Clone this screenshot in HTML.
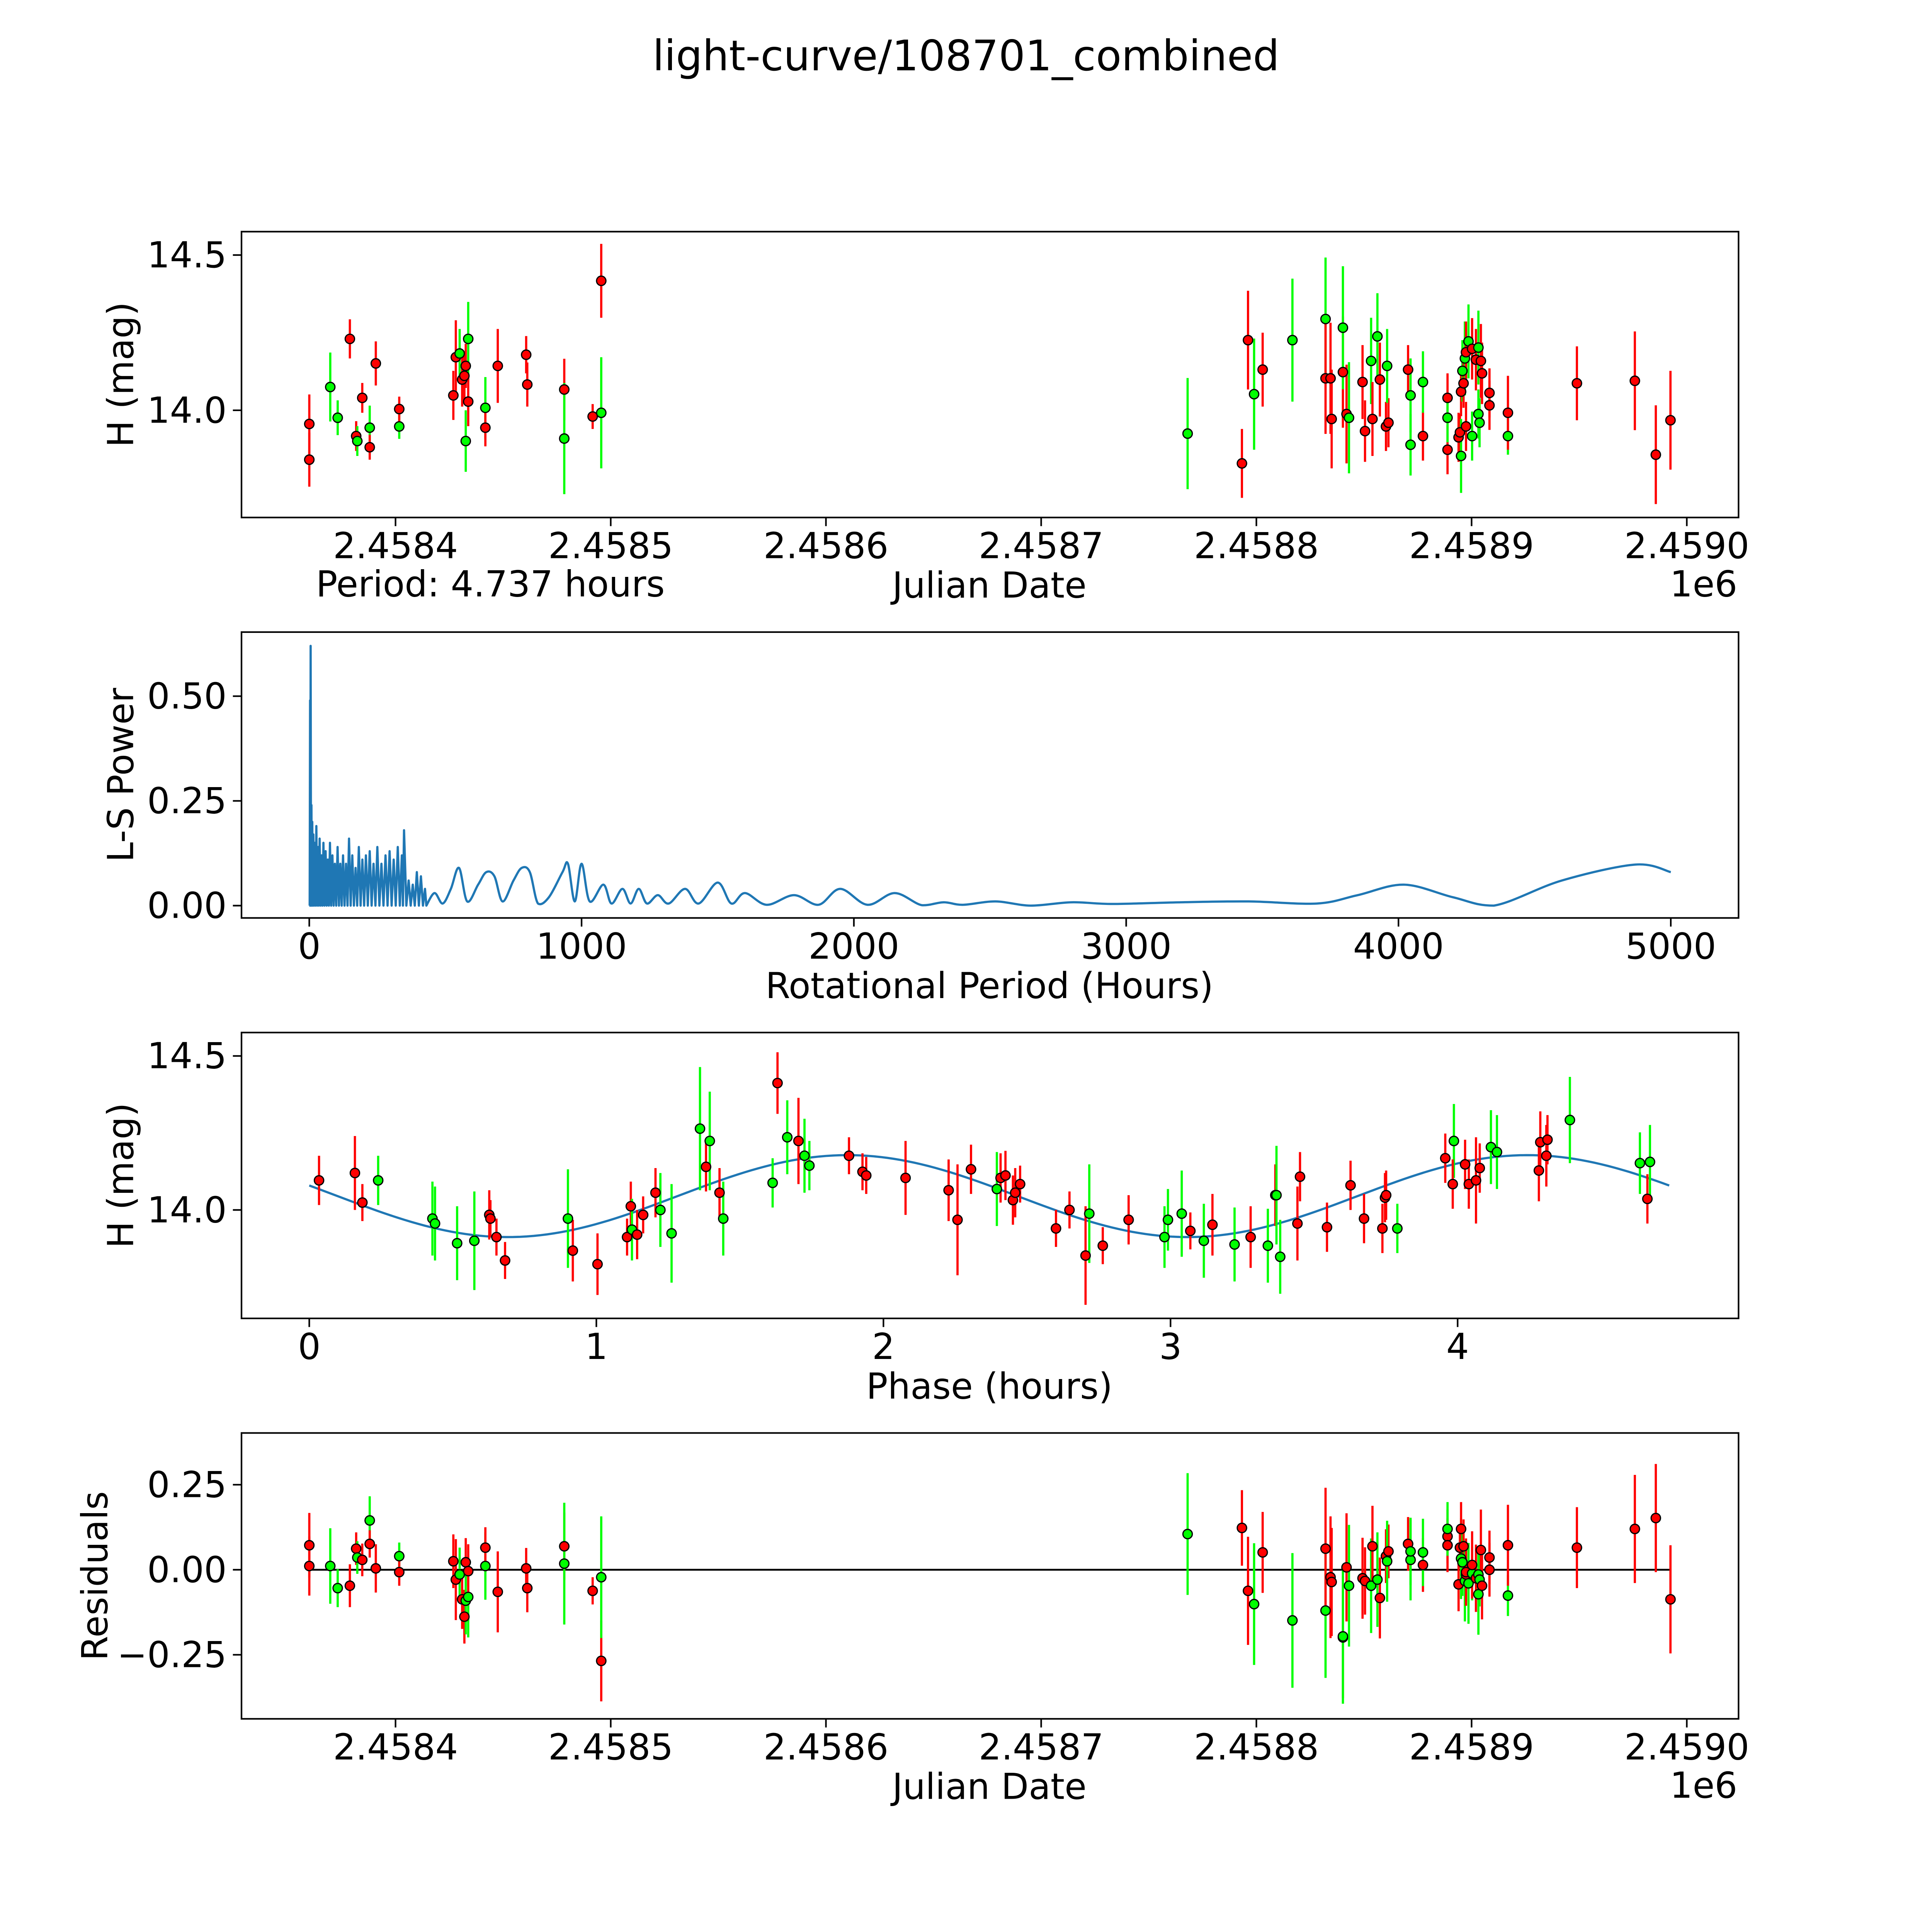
<!DOCTYPE html>
<html><head><meta charset="utf-8"><style>
html,body{margin:0;padding:0;background:#fff;overflow:hidden}
svg{display:block;width:100vw;height:100vh}
text{font-family:"DejaVu Sans","Liberation Sans",sans-serif;fill:#000}
</style></head><body>
<svg id="fig" xmlns="http://www.w3.org/2000/svg" viewBox="0 0 1568 1568" preserveAspectRatio="none">
<rect width="1568" height="1568" fill="#fff"/>
<text x="784" y="57" font-size="34" text-anchor="middle">light-curve/108701_combined</text>
<g id="g"></g>
</svg>
<script>
// ---- data ----
// light curve: day offset from 2458400, mag, err, filter
const lcDay=[-40.06,-40.06,-30.32,-26.87,-21.21,-18.28,-17.75,-15.45,-11.99,-11.99,-9.16,1.73,1.73,26.87,28.02,29.80,30.96,32.00,32.63,32.63,33.78,33.78,41.75,41.75,47.51,60.71,61.23,78.41,78.41,91.6,95.59,95.59,
368.05,393.29,396.12,398.94,402.92,416.75,432.14,432.14,434.45,434.98,440.21,440.21,441.89,443.04,449.33,450.48,453.31,453.94,456.24,457.39,460.22,461.37,460.75,470.49,471.64,471.64,477.40,477.40,488.82,488.82,488.82,493.95,494.58,495.11,495.11,495.74,496.26,496.89,497.41,497.41,500.24,498.56,500.24,502.02,503.17,503.17,503.70,504.32,504.85,508.31,508.31,516.89,516.89,548.94,575.86,585.60,592.41];
const lcMag=[13.956,13.841,14.075,13.976,14.230,13.917,13.901,14.040,13.944,13.881,14.151,13.948,14.004,14.048,14.171,14.183,14.099,14.111,14.143,13.901,14.230,14.028,14.008,13.944,14.143,14.179,14.083,14.067,13.909,13.980,14.417,13.992,
13.925,13.829,14.226,14.052,14.131,14.226,14.294,14.103,14.103,13.972,14.123,14.266,13.988,13.976,14.091,13.933,14.159,13.972,14.238,14.099,13.948,13.960,14.143,14.131,14.048,13.889,13.917,14.091,14.040,13.873,13.976,13.913,13.929,13.853,14.060,14.127,14.087,14.167,13.948,14.187,13.917,14.222,14.198,14.163,14.202,13.988,13.960,14.159,14.119,14.016,14.056,13.917,13.992,14.087,14.095,13.857,13.968,14.040];
const lcErr=[0.095,0.087,0.111,0.056,0.063,0.048,0.048,0.048,0.071,0.04,0.071,0.04,0.04,0.079,0.119,0.079,0.087,0.079,0.071,0.099,0.119,0.079,0.099,0.06,0.119,0.06,0.071,0.099,0.179,0.04,0.119,0.179,
0.179,0.111,0.159,0.179,0.119,0.198,0.198,0.179,0.179,0.159,0.179,0.198,0.159,0.179,0.119,0.099,0.139,0.119,0.139,0.119,0.079,0.079,0.119,0.079,0.119,0.099,0.079,0.099,0.079,0.079,0.079,0.079,0.06,0.119,0.079,0.099,0.079,0.119,0.079,0.099,0.079,0.119,0.099,0.099,0.119,0.079,0.079,0.119,0.099,0.079,0.079,0.06,0.119,0.119,0.159,0.159,0.159,0.139];
const lcFlt=['r','r','g','g','r','r','g','r','g','r','r','g','r','r','r','g','r','r','r','g','g','r','g','r','r','r','r','r','g','r','r','g',
'g','r','r','g','r','g','g','r','r','r','r','g','r','g','r','r','g','r','g','r','r','r','g','r','g','g','r','g','r','r','g','r','r','g','r','g','r','g','r','r','g','g','r','r','g','g','g','r','r','r','r','g','r','r','r','r','r'];
// residuals (same dates as light curve)
const resVal=[0.072,0.011,0.011,-0.054,-0.047,0.062,0.036,0.029,0.145,0.076,0.004,0.04,-0.007,0.025,-0.029,-0.014,-0.087,-0.138,0.022,-0.091,-0.08,-0.004,0.011,0.065,-0.065,0.004,-0.054,0.069,0.018,-0.062,-0.268,-0.022,
0.105,0.123,-0.062,-0.101,0.051,-0.149,-0.12,0.062,-0.022,-0.036,-0.199,-0.196,0.007,-0.047,-0.025,-0.033,-0.047,0.069,-0.029,-0.083,0.04,0.054,0.025,0.076,0.029,0.054,0.014,0.051,0.098,0.072,0.12,-0.043,0.065,0.033,0.12,0.022,0.069,-0.033,-0.014,-0.007,-0.011,-0.04,0.014,-0.025,-0.072,-0.014,-0.029,0.058,-0.047,0.036,0,-0.076,0.072,0.065,0.12,0.152,-0.087];
// phased light curve
const phT=[0.034,0.159,0.185,0.24,0.429,0.438,0.515,0.575,0.627,0.631,0.652,0.682,0.901,0.918,1.004,1.107,1.12,1.124,1.142,1.163,1.206,1.223,1.262,1.361,1.382,1.395,1.429,1.442,1.614,1.631,1.665,1.704,1.725,1.742,1.88,1.927,1.94,2.077,2.227,2.258,2.305,2.395,2.408,2.425,2.451,2.459,2.476,2.601,2.648,2.704,2.717,2.764,2.854,2.979,2.991,3.039,3.069,3.116,3.146,3.223,3.279,3.339,3.365,3.369,3.382,3.442,3.451,3.545,3.627,3.674,3.738,3.747,3.751,3.79,3.957,3.987,3.983,4.026,4.039,4.064,4.077,4.116,4.137,4.283,4.288,4.309,4.313,4.391,4.635,4.661,4.67];
const phMag=[14.096,14.12,14.024,14.096,13.972,13.956,13.892,13.9,13.984,13.972,13.912,13.836,13.972,13.868,13.824,13.912,14.012,13.936,13.92,13.984,14.056,14.0,13.924,14.264,14.14,14.224,14.056,13.972,14.088,14.412,14.236,14.224,14.176,14.144,14.176,14.124,14.112,14.104,14.064,13.968,14.132,14.068,14.104,14.112,14.032,14.056,14.084,13.94,14.0,13.852,13.988,13.884,13.968,13.912,13.968,13.988,13.932,13.9,13.952,13.888,13.912,13.884,14.048,14.048,13.848,13.956,14.108,13.944,14.08,13.972,13.94,14.04,14.048,13.94,14.168,14.224,14.084,14.148,14.084,14.096,14.136,14.204,14.188,14.128,14.22,14.176,14.228,14.292,14.152,14.036,14.156];
const phErr=[0.08,0.12,0.06,0.08,0.12,0.12,0.12,0.16,0.08,0.06,0.06,0.06,0.16,0.1,0.1,0.06,0.08,0.1,0.08,0.06,0.08,0.12,0.16,0.2,0.08,0.16,0.08,0.12,0.08,0.1,0.12,0.14,0.12,0.08,0.06,0.06,0.06,0.12,0.1,0.18,0.08,0.12,0.08,0.08,0.08,0.08,0.06,0.06,0.06,0.16,0.16,0.06,0.08,0.1,0.1,0.14,0.06,0.12,0.1,0.12,0.1,0.12,0.1,0.16,0.12,0.12,0.08,0.08,0.08,0.08,0.08,0.08,0.08,0.08,0.08,0.12,0.08,0.08,0.08,0.14,0.08,0.12,0.12,0.1,0.1,0.1,0.08,0.14,0.1,0.08,0.12];
const phFlt=['r','r','r','g','g','g','g','g','r','r','r','r','g','r','r','r','r','g','r','r','r','g','g','g','r','g','r','g','g','r','g','r','g','g','r','r','r','r','r','r','r','g','r','r','r','r','r','r','r','r','g','r','r','g','g','g','r','g','r','g','r','g','r','g','g','r','r','r','r','r','r','r','r','g','r','g','r','r','r','r','r','g','g','r','r','r','r','g','g','r','g'];
const period=4.737, modelMean=14.045, modelAmp=0.133, modelPhase=2.88;
// periodogram
const spikeP=[3,5,8,11,15,20,26,32,38,45,52,60,68,76,85,94,104,114,124,135,146,158,170,182,195,208,222,236,250,265,280,295,310,325,340,348,365,380,395,410,425];
const spikeH=[0.49,0.62,0.24,0.2,0.17,0.15,0.19,0.14,0.16,0.12,0.15,0.13,0.11,0.15,0.12,0.1,0.14,0.1,0.12,0.1,0.16,0.12,0.09,0.14,0.11,0.12,0.13,0.1,0.14,0.1,0.12,0.13,0.11,0.14,0.12,0.18,0.06,0.05,0.08,0.07,0.04];
const smoothP=[430,460,490,520,550,580,620,650,680,710,750,780,810,840,880,930,950,975,1000,1030,1080,1110,1150,1180,1210,1240,1280,1320,1380,1430,1500,1550,1600,1680,1780,1870,1950,2050,2150,2250,2330,2400,2520,2650,2800,2950,3200,3450,3700,3850,4020,4200,4350,4600,4870,5000];
const smoothH=[0,0.03,0.005,0.04,0.09,0.01,0.05,0.08,0.07,0.01,0.06,0.09,0.08,0.005,0.02,0.08,0.1,0.01,0.1,0.01,0.05,0.005,0.04,0.005,0.04,0.005,0.025,0.005,0.04,0.005,0.055,0.005,0.03,0.002,0.025,0.002,0.04,0.002,0.03,0.001,0.008,0.002,0.01,0,0.008,0.004,0.008,0.01,0.005,0.025,0.05,0.02,0,0.06,0.098,0.08];
const jdTicks=[2458400,2458500,2458600,2458700,2458800,2458900,2459000];
const jdTickLabels=['2.4584','2.4585','2.4586','2.4587','2.4588','2.4589','2.4590'];

// ---- drawing ----
const NS='http://www.w3.org/2000/svg';
const G=document.getElementById('g');
function el(tag,attrs,parent,txt){const e=document.createElementNS(NS,tag);for(const k in attrs)e.setAttribute(k,attrs[k]);if(txt!==undefined)e.textContent=txt;(parent||G).appendChild(e);return e;}
const L=196,R=1411;
function lin(d0,d1,p0,p1){return v=>p0+(v-d0)*(p1-p0)/(d1-d0);}
function frame(name,top,bot,xs,xt,xl,ys,yt,yl,xlabel,ylabel,ylx){
  const g=el('g',{});
  
  
  const f=el('rect',{x:L,y:top,width:R-L,height:bot-top,fill:'none',stroke:'#000','stroke-width':1.3},g);
  
  
  xt.forEach((t,i)=>{const x=xs(t);
    el('line',{x1:x,x2:x,y1:bot,y2:bot+7,stroke:'#000','stroke-width':1.3},g);
    const tx=el('text',{x:x,y:bot+33,'font-size':29,'text-anchor':'middle'},g,xl[i]);
    
    });
  yt.forEach((t,i)=>{const y=ys(t);
    el('line',{x1:L-7,x2:L,y1:y,y2:y,stroke:'#000','stroke-width':1.3},g);
    const ty=el('text',{x:L-12,y:y+10,'font-size':29,'text-anchor':'end'},g,yl[i]);
    
    });
  const a=el('text',{x:803,y:bot+65,'font-size':29,'text-anchor':'middle'},g,xlabel);
  
  
  const cy=(top+bot)/2;
  const b=el('text',{x:0,y:0,'font-size':29,'text-anchor':'middle',transform:`translate(${ylx||108},${cy}) rotate(-90)`},g,ylabel);
  
  
  return g;
}
function points(g,xs,ys,X,Y,E,F,name){
  X.forEach((xv,i)=>{const c=F[i]==='r'?'#ff0000':'#00ff00';
    const x=xs(xv);
    const ln=el('line',{x1:x,x2:x,y1:ys(Y[i]-E[i]),y2:ys(Y[i]+E[i]),stroke:c,'stroke-width':1.8},g);
    
    });
  X.forEach((xv,i)=>{const c=F[i]==='r'?'#ff0000':'#00ff00';
    const p=el('circle',{cx:xs(xv),cy:ys(Y[i]),r:3.8,fill:c,stroke:'#000','stroke-width':1},g);
    
    });
}
const jdX=lin(2458400,2459000,321,1369);
const jdXd=d=>jdX(d+2458400);

// Panel 1
const y1=lin(14,14.5,333,207);
const g1=frame('light-curve-panel',188,420,jdX,jdTicks,jdTickLabels,y1,[14.0,14.5],['14.0','14.5'],'Julian Date','H (mag)');
points(g1,jdXd,y1,lcDay,lcMag,lcErr,lcFlt,'light-curve');
let t=el('text',{x:1410,y:484,'font-size':29,'text-anchor':'end'},g1,'1e6');


t=el('text',{x:398,y:484,'font-size':29,'text-anchor':'middle'},g1,'Period: 4.737 hours');



// Panel 2
const x2=lin(0,5000,251,1356), y2=lin(0,0.5,735,565);
const g2=frame('periodogram-panel',513,745,x2,[0,1000,2000,3000,4000,5000],['0','1000','2000','3000','4000','5000'],y2,[0,0.25,0.5],['0.00','0.25','0.50'],'Rotational Period (Hours)','L-S Power');
let d='M'+x2(0)+','+y2(0);
spikeP.forEach((p,i)=>{
  const prev=i?spikeP[i-1]:0;
  d+=' L'+x2((prev+p)/2)+','+y2(0)+' L'+x2(p)+','+y2(spikeH[i]);
});
const sp=smoothP.map((p,i)=>[x2(p),y2(smoothH[i])]);
d+=' L'+sp[0][0]+','+sp[0][1];
for(let i=0;i<sp.length-1;i++){
  const p0=sp[Math.max(0,i-1)],p1=sp[i],p2=sp[i+1],p3=sp[Math.min(sp.length-1,i+2)];
  const c1=[p1[0]+(p2[0]-p0[0])/6,p1[1]+(p2[1]-p0[1])/6];
  const c2=[p2[0]-(p3[0]-p1[0])/6,p2[1]-(p3[1]-p1[1])/6];
  d+=` C${c1[0]},${Math.min(c1[1],y2(0))} ${c2[0]},${Math.min(c2[1],y2(0))} ${p2[0]},${p2[1]}`;
}
const pl=el('path',{d:d,fill:'none',stroke:'#1f77b4','stroke-width':1.8,'stroke-linejoin':'round'},g2);



// Panel 3
const x3=lin(0,1,251,484), y3=lin(14,14.5,982,857);
const g3=frame('phase-panel',838,1070,x3,[0,1,2,3,4],['0','1','2','3','4'],y3,[14.0,14.5],['14.0','14.5'],'Phase (hours)','H (mag)');
let md='';
for(let k=0;k<=200;k++){const tt=period*k/200;const m=modelMean+modelAmp*Math.sin(4*Math.PI*tt/period+modelPhase);md+=(k?' L':'M')+x3(tt)+','+y3(m);}
const ml=el('path',{d:md,fill:'none',stroke:'#1f77b4','stroke-width':1.8},g3);


points(g3,x3,y3,phT,phMag,phErr,phFlt,'phase');

// Panel 4
const y4=lin(0,0.25,1274,1205);
const g4=frame('residuals-panel',1163,1395,jdX,jdTicks,jdTickLabels,y4,[-0.25,0,0.25],['\u22120.25','0.00','0.25'],'Julian Date','Residuals',87);
const zl=el('line',{x1:jdXd(lcDay[0]),x2:jdXd(lcDay[lcDay.length-1]),y1:y4(0),y2:y4(0),stroke:'#000','stroke-width':1.5},g4);


points(g4,jdXd,y4,lcDay,resVal,lcErr,lcFlt,'residual');
t=el('text',{x:1410,y:1459,'font-size':29,'text-anchor':'end'},g4,'1e6');


</script>
</body></html>
